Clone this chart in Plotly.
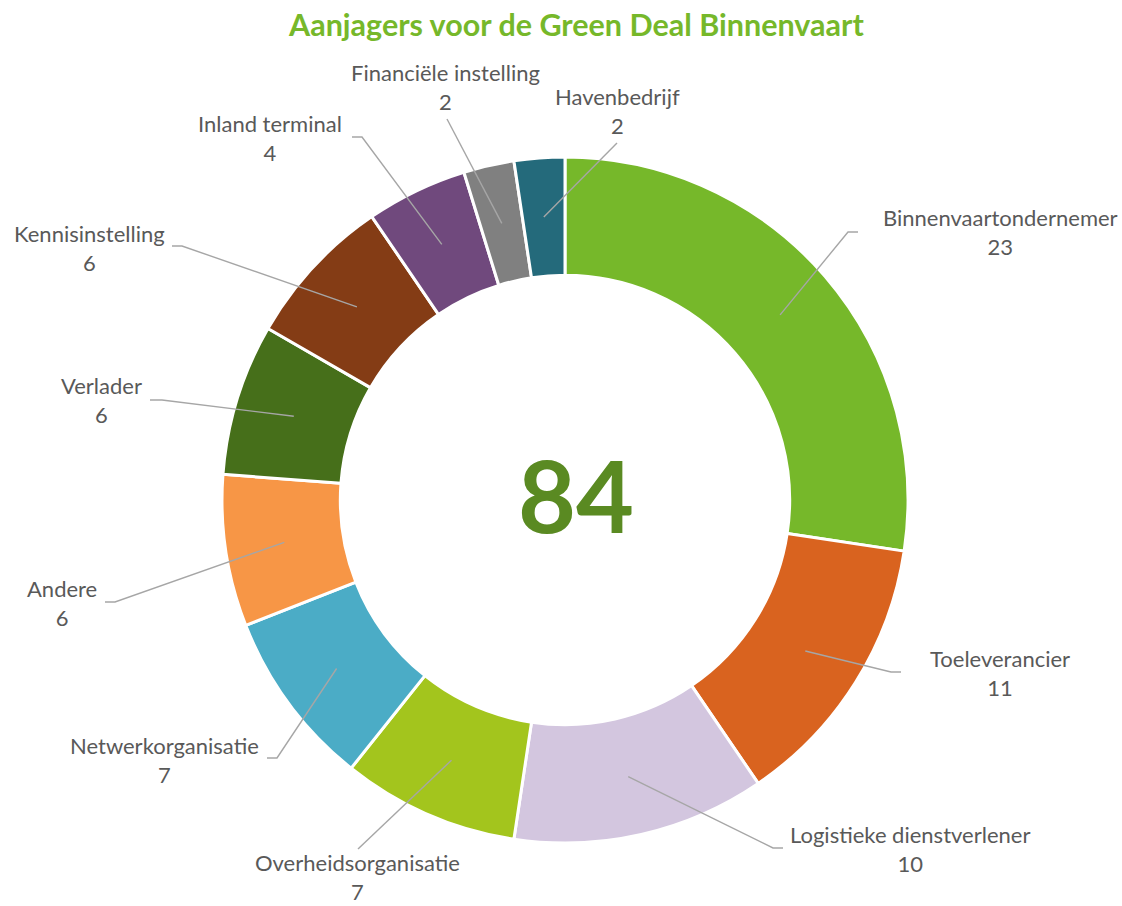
import math
import plotly.graph_objects as go

# ---------------- data ----------------
categories = [
    "Binnenvaartondernemer", "Toeleverancier", "Logistieke dienstverlener",
    "Overheidsorganisatie", "Netwerkorganisatie", "Andere", "Verlader",
    "Kennisinstelling", "Inland terminal", "Financiële instelling", "Havenbedrijf",
]
values = [23, 11, 10, 7, 7, 6, 6, 6, 4, 2, 2]
title_text = "Aanjagers voor de Green Deal Binnenvaart"

# ---------------- style / layout ----------------
colors = [
    "#76B82A", "#D9631F", "#D3C6DF", "#A3C51D", "#4BACC6", "#F79646",
    "#466F1A", "#843C15", "#70497D", "#808080", "#246A7B",
]
W, H = 1122, 906
CX, CY, R = 565, 500, 343
HOLE = 0.655
FONT = "Lato"
LABEL_COLOR = "#595959"
LINE_COLOR = "#A6A6A6"

# label placement (pixel layout): text centre, then leader path points after the slice point
label_layout = [
    dict(text=(1000, 232), path=[(848, 232), (858, 232)]),
    dict(text=(1000, 673), path=[(891, 672), (901, 672)]),
    dict(text=(910, 849), path=[(773, 848), (783, 848)]),
    dict(text=(357, 877), path=[(358, 849)]),
    dict(text=(164, 760), path=[(277, 758), (267, 758)]),
    dict(text=(62, 603), path=[(115, 602), (105, 602)]),
    dict(text=(101, 400), path=[(162, 400), (150, 400)]),
    dict(text=(89, 248), path=[(182, 246), (172, 246)]),
    dict(text=(270, 138), path=[(362, 137), (352, 137)]),
    dict(text=(445, 87), path=[(447, 119)]),
    dict(text=(617, 111), path=[(617, 143)]),
]

total = sum(values)

fig = go.Figure()
fig.add_trace(go.Pie(
    labels=categories, values=values, sort=False, direction="clockwise",
    rotation=0, hole=HOLE, textinfo="none", hoverinfo="label+value",
    marker=dict(colors=colors, line=dict(color="white", width=3)),
    domain=dict(x=[(CX - R) / W, (CX + R) / W], y=[(H - CY - R) / H, (H - CY + R) / H]),
    showlegend=False,
))
# invisible trace to activate the pixel-mapped cartesian axes used for labels/leaders
fig.add_trace(go.Scatter(x=[0, W], y=[0, H], mode="markers", marker=dict(opacity=0),
                         hoverinfo="skip", showlegend=False))

# leader lines from the middle of each slice to its label
r_mid = R * (1 + HOLE) / 2
cum = 0
annotations = []
shapes = []
for name, v, lay in zip(categories, values, label_layout):
    mid = (cum + v / 2) / total * 2 * math.pi
    cum += v
    sx = CX + r_mid * math.sin(mid)
    sy = CY - r_mid * math.cos(mid)
    pts = [(sx, sy)] + list(lay["path"])
    path = "M " + " L ".join(f"{px:.1f},{py:.1f}" for px, py in pts)
    shapes.append(dict(type="path", path=path, xref="x", yref="y", layer="above",
                       line=dict(color=LINE_COLOR, width=1.4)))
    annotations.append(dict(
        x=lay["text"][0], y=lay["text"][1], xref="x", yref="y",
        text=f"{name}<br>{v}", showarrow=False, xanchor="center", yanchor="middle",
        font=dict(family=FONT, size=22, color=LABEL_COLOR), align="center",
    ))

annotations.append(dict(
    x=576, y=24, xref="x", yref="y", text=f"<b>{title_text}</b>", showarrow=False,
    xanchor="center", yanchor="middle", font=dict(family=FONT, size=30.5, color="#76B82A"),
))
annotations.append(dict(
    x=576, y=494, xref="x", yref="y", text=f"<b>{total}</b>", showarrow=False,
    xanchor="center", yanchor="middle", font=dict(family=FONT, size=100, color="#5A8A22"),
))

fig.update_layout(
    width=W, height=H, margin=dict(l=0, r=0, t=0, b=0),
    paper_bgcolor="white", plot_bgcolor="rgba(0,0,0,0)",
    xaxis=dict(range=[0, W], visible=False, fixedrange=True),
    yaxis=dict(range=[H, 0], visible=False, fixedrange=True),
    annotations=annotations, shapes=shapes, font=dict(family=FONT),
)

fig.write_html(
    "out.html",
    config={"displayModeBar": False},
    post_script="document.body.style.margin='0';document.body.style.overflow='hidden';",
)
